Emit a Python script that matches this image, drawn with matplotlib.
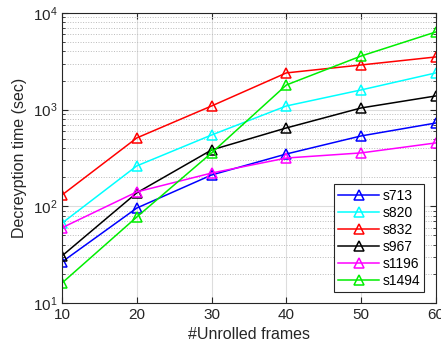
import matplotlib.pyplot as plt
from matplotlib.ticker import LogLocator

plt.rcParams['font.family'] = ['Liberation Sans', 'DejaVu Sans']
plt.rcParams['mathtext.fontset'] = 'custom'
plt.rcParams['mathtext.rm'] = 'Liberation Sans'

frames = [10, 20, 30, 40, 50, 60]
s713 = [26.6, 96, 211, 348, 535, 728]
s820 = [67, 262, 547, 1092, 1600, 2400]
s832 = [131, 510, 1092, 2400, 2900, 3510]
s967 = [30.7, 138, 383, 647, 1042, 1387]
s1196 = [60, 141, 221, 316, 357, 453]
s1494 = [16.1, 77.6, 357, 1800, 3590, 6370]

series = [('s713', s713, '#0000ff'), ('s820', s820, '#00ffff'), ('s832', s832, '#ff0000'),
          ('s967', s967, '#000000'), ('s1196', s1196, '#ff00ff'), ('s1494', s1494, '#00ee00')]


def main():
    fig = plt.figure(figsize=(4.41, 3.49), dpi=100)
    ax = fig.add_axes([0.1406, 0.1318, 0.848, 0.831])
    for name, vals, col in series:
        ax.plot(frames, vals, color=col, marker='^', markersize=7,
                markerfacecolor='none', markeredgewidth=1.1, linewidth=1.1, label=name)
    ax.set_yscale('log')
    ax.set_xlim(10, 60)
    ax.set_ylim(10, 1e4)
    ax.set_xticks(frames)
    ax.yaxis.set_major_locator(LogLocator(base=10, numticks=10))
    ax.grid(True, which='major', color='#dddddd', linewidth=0.8)
    ax.grid(True, which='minor', color='#bbbbbb', linestyle=':', linewidth=0.7)
    ax.set_axisbelow(True)
    ax.tick_params(which='both', direction='in', top=True, right=True, colors='#262626',
                   labelsize=11)
    ax.tick_params(which='major', length=4)
    ax.tick_params(which='minor', length=2)
    for sp in ax.spines.values():
        sp.set_color('#262626')
        sp.set_linewidth(0.8)
    ax.set_xlabel('#Unrolled frames', fontsize=11.5, color='#262626')
    ax.set_ylabel('Decreyption time (sec)', fontsize=11.5, color='#262626')
    leg = ax.legend(loc='lower right', fontsize=10, fancybox=False, framealpha=1,
                    edgecolor='#262626', handlelength=2.9, borderpad=0.3,
                    labelspacing=0.22, handletextpad=0.25, borderaxespad=0,
                    bbox_to_anchor=(0.968, 0.038))
    leg.get_frame().set_linewidth(0.8)
    fig.savefig('out.png', dpi=100)


if __name__ == '__main__':
    main()
